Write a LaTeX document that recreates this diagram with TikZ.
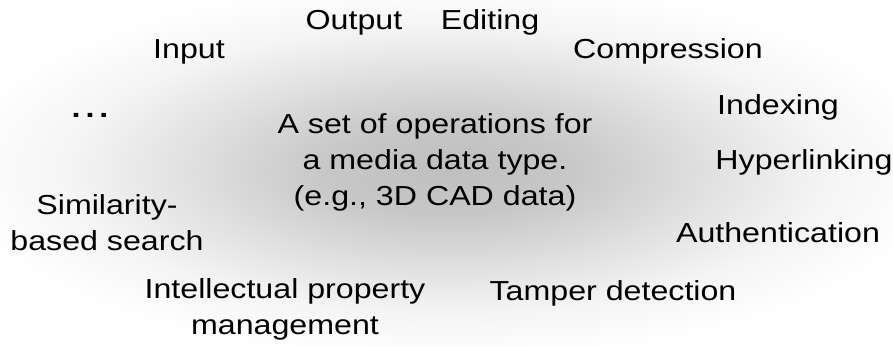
\documentclass[tikz,border=0pt]{standalone}
\usepackage{fontspec}
\setmainfont{Liberation Sans}[FakeStretch=1.17]
\pgfdeclareradialshading{glow}{\pgfpoint{0bp}{0bp}}{color(0bp)=(black!25); color(6bp)=(black!22); color(13bp)=(black!12); color(19bp)=(black!4); color(25bp)=(white); color(50bp)=(white)}
\begin{document}
\begin{tikzpicture}[x=1pt,y=-1pt,
  lbl/.style={inner sep=0pt, anchor=base, align=center, font=\fontsize{27.5}{36}\selectfont}]
\useasboundingbox (0,0) rectangle (893,347);
\clip (0,0) rectangle (893,347);
\path[shading=glow] (448,170) ellipse [x radius=500, y radius=190];
\node[lbl] (center) at (435,206) {A set of operations for\\a media data type.\\(e.g., 3D CAD data)};
\node[lbl] (output) at (354,30) {Output};
\node[lbl] (editing) at (490,30) {Editing};
\node[lbl] (input) at (189,59) {Input};
\node[lbl] (compression) at (668,59) {Compression};
\node[lbl] (dots) at (90,118) {\bfseries .\hspace{5pt}.\hspace{5pt}.};
\node[lbl] (indexing) at (778,115) {Indexing};
\node[lbl] (hyper) at (804,170) {Hyperlinking};
\node[lbl] (auth) at (778,243) {Authentication};
\node[lbl] (sim) at (107,251) {Similarity-\\based search};
\node[lbl] (ipm) at (285,334) {Intellectual property\\management};
\node[lbl] (tamper) at (613,300) {Tamper detection};
\end{tikzpicture}
\end{document}
